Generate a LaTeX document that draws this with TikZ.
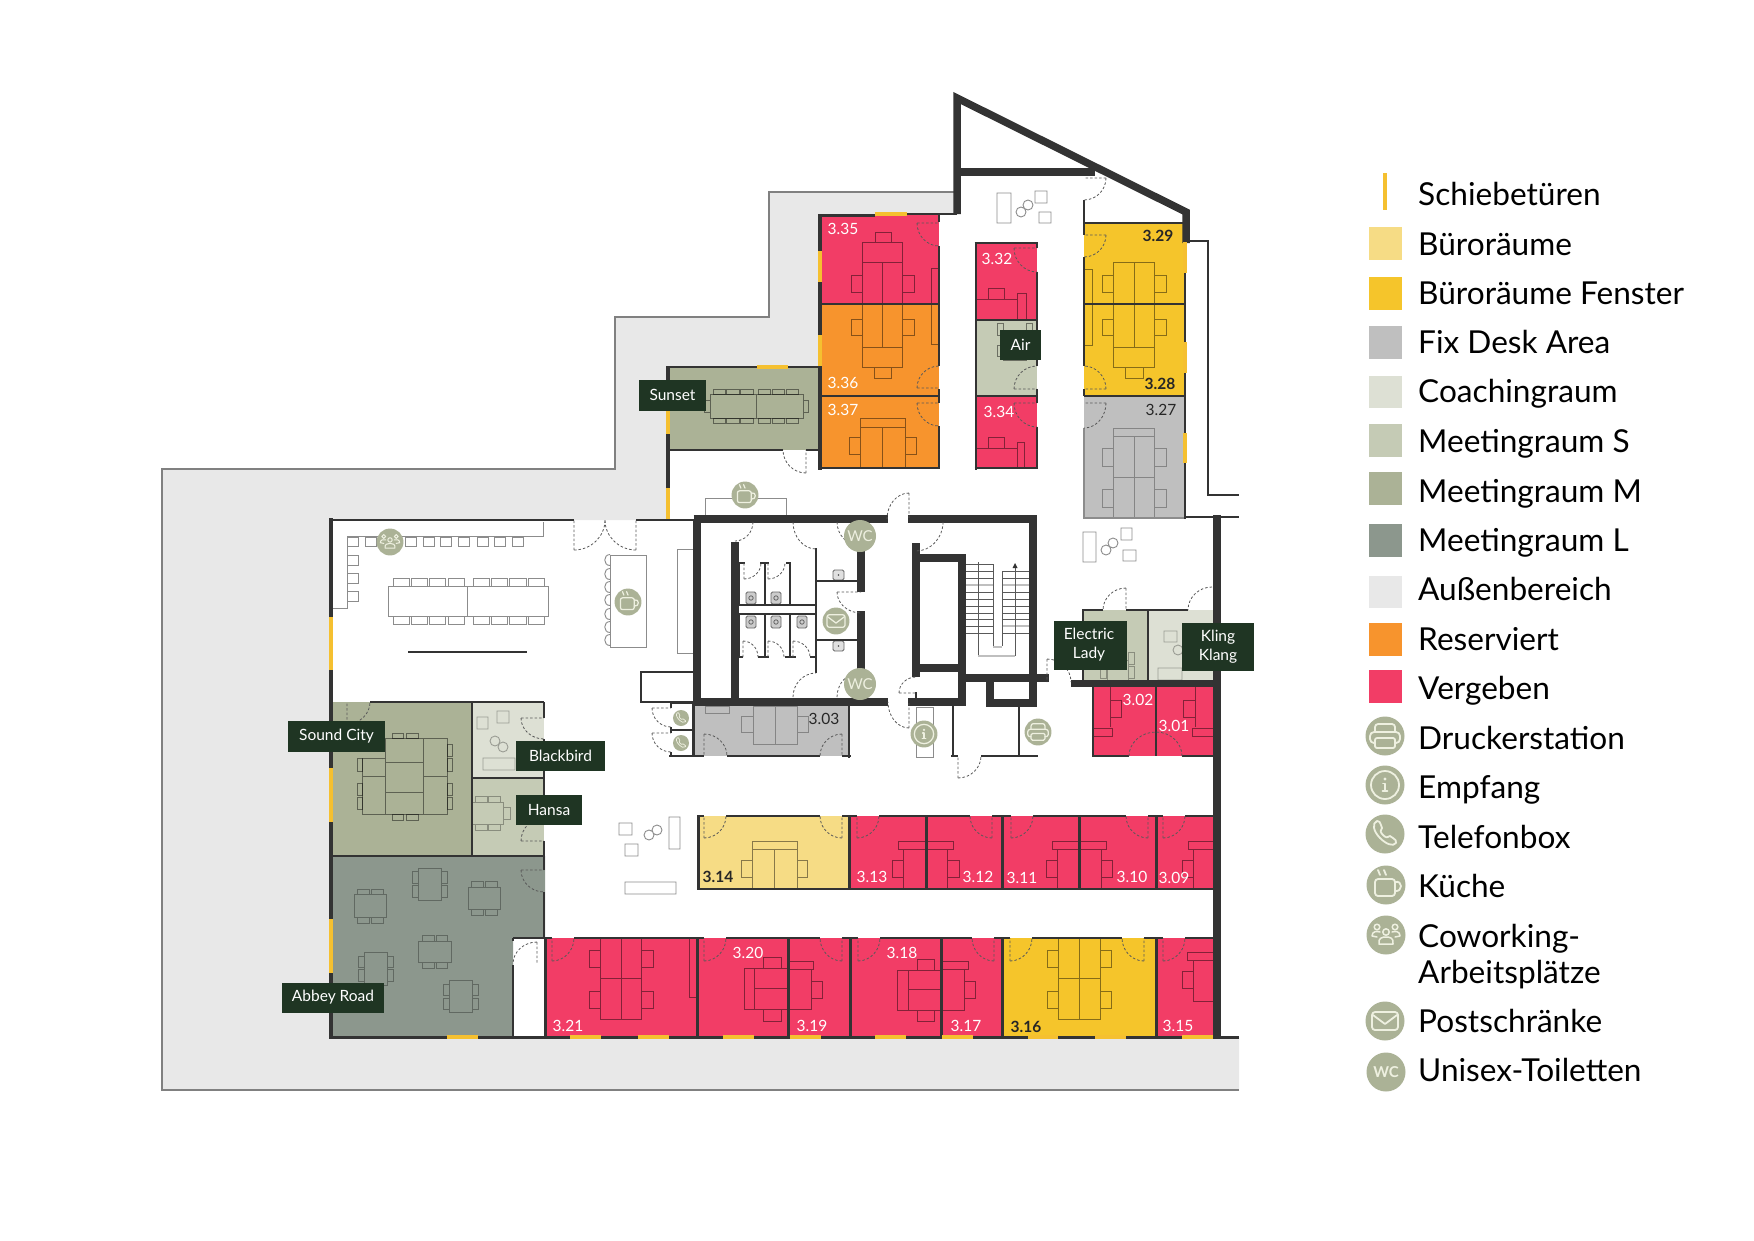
\documentclass[tikz,border=0pt]{standalone}
\usepackage{fontspec}
\setmainfont{Lato}
\definecolor{cred}{HTML}{F23D66}
\definecolor{cyel}{HTML}{F5C52B}
\definecolor{cbur}{HTML}{F6DC85}
\definecolor{cfix}{HTML}{BFBFBF}
\definecolor{ccoa}{HTML}{DDE0D4}
\definecolor{cms}{HTML}{C5CBB5}
\definecolor{cmm}{HTML}{ABB296}
\definecolor{cml}{HTML}{8C978D}
\definecolor{cout}{HTML}{E8E8E8}
\definecolor{cres}{HTML}{F7942D}
\definecolor{cwall}{HTML}{333333}
\definecolor{clab}{HTML}{1F3523}
\definecolor{ccream}{HTML}{EEF0E0}
\definecolor{cslide}{HTML}{F5C030}
\tikzset{
  wall/.style={draw=cwall,line width=2.6pt},
  wallb/.style={draw=cwall,line width=7.5pt},
  wallt/.style={draw=cwall,line width=1.8pt},
  slide/.style={draw=cslide,line width=4pt},
  fur/.style={draw=black,draw opacity=.45,line width=.9pt},
  furl/.style={draw=black,draw opacity=.3,line width=.9pt},
  furw/.style={draw=black!45,line width=.9pt},
  doorl/.style={draw=black!65,line width=.8pt,dash pattern=on 2.5pt off 2pt},
  rn/.style={font=\fontsize{15.5}{18}\selectfont,text=white,inner sep=0pt,yshift=-.8pt},
  rnd/.style={rn,text=black!85},
  rnb/.style={rn,text=black!85,font=\fontsize{15.5}{18}\selectfont\bfseries},
  lab/.style={fill=clab,text=white,inner sep=0pt,align=center,yshift=-.6pt,font=\fontsize{15.5}{19}\selectfont},
  leg/.style={anchor=base west,inner sep=0pt,font=\fontsize{31.6}{36}\selectfont,text=black,align=left},
  ico/.style={draw=ccream,line cap=round,line join=round},
}
\newcommand\doorj[6]{\draw[doorl] ({#1+(#3)},{#2+(#4)}) -- (#1,#2) ({#1+(#3)},{#2+(#4)}) .. controls ({#1+(#3)+.55*(#5)},{#2+(#4)+.55*(#6)}) and ({#1+(#5)+.55*(#3)},{#2+(#6)+.55*(#4)}) .. ({#1+(#5)},{#2+(#6)});}
\newcommand\doora[6]{\draw[doorl] ({#1+(#3)},{#2+(#4)}) .. controls ({#1+(#3)+.55*(#5)},{#2+(#4)+.55*(#6)}) and ({#1+(#5)+.55*(#3)},{#2+(#6)+.55*(#4)}) .. ({#1+(#5)},{#2+(#6)});}
\newcommand\icbase[3]{\fill[cmm] (#1,#2) circle[radius=19.5*#3];}
\newcommand\icprinter[3]{\icbase{#1}{#2}{#3}\begin{scope}[shift={(#1,#2)},scale=#3,ico,line width=#3*1.8pt]
 \draw[rounded corners=3*#3 pt] (-10,-4) -- (-10,-12) -- (10,-12) -- (10,-4);
 \draw[rounded corners=4*#3 pt] (-10,7) -- (-15,7) -- (-15,-4) -- (15,-4) -- (15,7) -- (10,7);
 \draw[rounded corners=2*#3 pt] (-10,2) rectangle (10,12);
 \end{scope}}
\newcommand\icinfo[3]{\icbase{#1}{#2}{#3}\begin{scope}[shift={(#1,#2)},scale=#3,ico,line width=#3*1.8pt]
 \draw (0,0) circle[radius=14];
 \fill[ccream] (0,-6) circle[radius=1.7];
 \draw (-2,-1.5) -- (0,-1.5) -- (0,6) (-2.5,6) -- (2.5,6);
 \end{scope}}
\newcommand\icphone[3]{\icbase{#1}{#2}{#3}\begin{scope}[shift={(#1,#2)},scale=#3,ico,line width=#3*1.8pt]
 \draw (-8,-13) .. controls (-13,-11) and (-12,-3) .. (-5,4) .. controls (1,10) and (8,13) .. (11,9) .. controls (12,7) and (11,6) .. (5,2) .. controls (3,4) and (1,4) .. (-2,1) .. controls (-5,-2) and (-5,-4) .. (-3,-6) .. controls (-5,-12) and (-6,-14) .. (-8,-13) -- cycle;
 \end{scope}}
\newcommand\iccoffee[3]{\icbase{#1}{#2}{#3}\begin{scope}[shift={(#1,#2)},scale=#3,ico,line width=#3*1.8pt]
 \draw[rounded corners=3*#3 pt] (-11,-6) -- (9,-6) -- (9,11) -- (-11,11) -- cycle;
 \draw (9,-3) .. controls (17,-5) and (17,7) .. (9,6);
 \draw (-8,-15) -- (-6,-10) (-2,-15) -- (0,-10);
 \end{scope}}
\newcommand\icpeople[3]{\icbase{#1}{#2}{#3}\begin{scope}[shift={(#1,#2)},scale=#3,ico,line width=#3*1.5pt]
 \draw (0,-3) circle[radius=3.2] (-9,-8) circle[radius=2.8] (9,-8) circle[radius=2.8];
 \draw (-7,9) .. controls (-8,3) and (-4,2) .. (0,2) .. controls (4,2) and (8,3) .. (7,9) -- cycle;
 \draw (-14,1) .. controls (-14,-4) and (-9,-4) .. (-6,-3) (14,1) .. controls (14,-4) and (9,-4) .. (6,-3) (-14,1) -- (-9,2) (14,1) -- (9,2);
 \end{scope}}
\newcommand\icmail[3]{\icbase{#1}{#2}{#3}\begin{scope}[shift={(#1,#2)},scale=#3,ico,line width=#3*1.8pt]
 \draw[rounded corners=3*#3 pt] (-13,-9) rectangle (13,9);
 \draw (-12,-6) -- (0,3) -- (12,-6);
 \end{scope}}
\begin{document}
\begin{tikzpicture}[x=1pt,y=-1pt]
\useasboundingbox (0,0) rectangle (1754,1240);
\fill[white] (0,0) rectangle (1754,1240);
% outdoor
\fill[cout] (162,469)--(615,469)--(615,317)--(769,317)--(769,192)--(957,192)--(957,214)--(820,214)--(820,367)--(668,367)--(668,520)--(331,520)--(331,1037)--(1239,1037)--(1239,1090)--(162,1090)--cycle;
\draw[draw=black!50,line width=1.6pt] (1239,1090)--(162,1090)--(162,469)--(615,469)--(615,317)--(769,317)--(769,192)--(957,192);
% room fills
\fill[cred] (820,214) rectangle (939,304);
\fill[cres] (820,304) rectangle (939,468);
\fill[cred] (976,243) rectangle (1037,320);
\fill[cms] (976,320) rectangle (1037,396);
\fill[cred] (976,396) rectangle (1037,468);
\fill[cyel] (1084,223) rectangle (1185,396);
\fill[cfix] (1084,396) rectangle (1185,517);
\fill[cmm] (668,367) rectangle (820,450);
\fill[cmm] (331,702) rectangle (472,856);
\fill[ccoa] (472,702) rectangle (544,778);
\fill[cms] (472,778) rectangle (544,856);
\fill[cml] (331,856)--(545,856)--(545,938)--(513,938)--(513,1037)--(331,1037)--cycle;
\fill[cfix] (694,706) rectangle (850,756);
\fill[cms] (1083,610) rectangle (1148,681);
\fill[ccoa] (1148,610) rectangle (1217,681);
\fill[cred] (1093,687) rectangle (1213,756);
\fill[cbur] (698,816) rectangle (849,889);
\fill[cred] (849,816) rectangle (1213,889);
\fill[cred] (545,938) rectangle (1002,1037);
\fill[cyel] (1002,938) rectangle (1156,1037);
\fill[cred] (1156,938) rectangle (1213,1037);
% furniture, white floor
\draw[furw] (997,193) rectangle (1011,223) (1021,212) circle[radius=5] (1028,205) circle[radius=5] (1035,191) rectangle (1047,203) (1039,212) rectangle (1051,223);
\draw[furw] (1083,532) rectangle (1096,562) (1106,550) circle[radius=5] (1113,543) circle[radius=5] (1121,528) rectangle (1132,540) (1123,550) rectangle (1136,561);
\draw[furw] (619,823) rectangle (632,835) (625,844) rectangle (638,856) (649,835) circle[radius=5] (657,830) circle[radius=5] (669,817) rectangle (680,849) (625,882) rectangle (676,894);
\draw[furw] (543,522)--(543,536)--(347,536)--(347,608)--(331,608);
\draw[furw] (347,537) rectangle (358,546) (365,537) rectangle (376,546) (385,537) rectangle (396,546) (405,537) rectangle (416,546) (423,537) rectangle (434,546) (440,537) rectangle (451,546) (458,537) rectangle (469,546) (477,537) rectangle (488,546) (494,537) rectangle (505,546) (512,537) rectangle (523,546);
\draw[furw] (347,555) rectangle (358,565) (347,573) rectangle (358,583) (347,591) rectangle (358,601);
\draw[furw] (388,586) rectangle (467,616) (467,586) rectangle (548,616);
\foreach \xa/\xb in {393/409,411/427,429/445,448/464,473/489,491/507,509/526,528/544}{\draw[furw] (\xa,578) rectangle (\xb,586) (\xa,616) rectangle (\xb,624);}
\draw[wall] (408,652)--(527,652);
\draw[furw] (610,555) rectangle (646,647);
\foreach \yy in {560,574,587,600,614,627,640}{\draw[furw] (610,\yy-5.5) .. controls (603,\yy-5.5) and (603,\yy+5.5) .. (610,\yy+5.5);}
\draw[furw] (677,653)--(677,549)--(694,549) (677,653)--(694,653);
\draw[furw] (705,519)--(705,498)--(786,498)--(786,519);
\draw[furw] (916,707) rectangle (933,757);
% furniture rooms
\draw[fur] (875,232) rectangle (891,242) (862,242) rectangle (902,262) (862,262) rectangle (902,304) (882,262)--(882,347) (851,275) rectangle (862,292) (902,275) rectangle (914,292) (931,268) rectangle (939,344);
\draw[fur] (862,304) rectangle (902,347) (862,347) rectangle (902,367) (874,367) rectangle (891,378) (851,319) rectangle (862,335) (902,319) rectangle (914,335);
\draw[fur] (860,418) rectangle (905,427) (860,427) rectangle (905,468) (882,427)--(882,468) (849,437) rectangle (860,454) (905,437) rectangle (916,454);
\draw[fur] (976,299) rectangle (1017,320) (1017,293) rectangle (1026,320) (988,288) rectangle (1004,299);
\draw[fur] (997,323) rectangle (1003,335) (1026,323) rectangle (1032,335) (997,345) rectangle (1003,356) (1003,356) rectangle (1026,360);
\draw[fur] (976,448) rectangle (1017,468) (1017,442) rectangle (1024,468) (988,437) rectangle (1004,448);
\draw[fur] (1113,262) rectangle (1154,304) (1134,262)--(1134,347) (1102,275) rectangle (1113,292) (1154,275) rectangle (1166,292) (1084,269) rectangle (1092,345);
\draw[fur] (1113,304) rectangle (1154,347) (1113,347) rectangle (1154,367) (1125,367) rectangle (1143,378) (1102,319) rectangle (1113,335) (1154,319) rectangle (1166,335);
\draw[furl] (1113,428) rectangle (1154,436) (1113,436) rectangle (1154,517) (1134,436)--(1134,517) (1113,477)--(1154,477) (1102,448) rectangle (1113,466) (1154,448) rectangle (1166,466) (1102,489) rectangle (1113,507) (1154,489) rectangle (1166,507);
\draw[fur] (710,394) rectangle (803,418) (756,394)--(756,418) (803,400) rectangle (808,412) (704,400) rectangle (710,412);
\foreach \xa/\xb in {713/725,726/739,740/753,758/770,772/784,786/798}{\draw[fur] (\xa,389) rectangle (\xb,394) (\xa,418) rectangle (\xb,423);}
\draw[fur] (385,738) rectangle (423,814) (385,762)--(423,762) (385,792)--(423,792) (362,758) rectangle (385,814) (362,776)--(385,776) (423,738) rectangle (447,814) (423,776)--(447,776);
\draw[fur] (357,758) rectangle (362,771) (357,783) rectangle (362,795) (357,797) rectangle (362,809) (447,744) rectangle (452,756) (447,758) rectangle (452,771) (447,783) rectangle (452,795) (447,797) rectangle (452,809) (392,733) rectangle (403,738) (406,733) rectangle (418,738) (392,814) rectangle (403,820) (406,814) rectangle (418,820);
\draw[furl] (477,717) rectangle (488,729) (497,711) rectangle (509,723) (495,741) circle[radius=5] (503,747) circle[radius=5] (483,758) rectangle (515,770);
\draw[furl] (472,802) rectangle (503,824) (475,796) rectangle (487,802) (488,796) rectangle (500,802) (475,824) rectangle (487,830) (488,824) rectangle (500,830) (503,807) rectangle (510,819);
\draw[furl] (354,894) rectangle (386,917) (357,889) rectangle (369,894) (371,889) rectangle (383,894) (357,917) rectangle (369,923) (371,917) rectangle (383,923);
\draw[furl] (418,868) rectangle (441,900) (412,871) rectangle (418,883) (412,885) rectangle (418,897) (441,871) rectangle (447,883) (441,885) rectangle (447,897);
\draw[furl] (468,887) rectangle (500,909) (471,881) rectangle (483,887) (485,881) rectangle (497,887) (471,909) rectangle (483,915) (485,909) rectangle (497,915);
\draw[furl] (418,941) rectangle (451,962) (422,935) rectangle (434,941) (436,935) rectangle (447,941) (422,962) rectangle (434,968) (436,962) rectangle (447,968);
\draw[furl] (364,952) rectangle (387,985) (358,956) rectangle (364,967) (358,969) rectangle (364,981) (387,956) rectangle (393,967) (387,969) rectangle (393,981);
\draw[furl] (449,980) rectangle (472,1012) (443,984) rectangle (449,995) (443,998) rectangle (449,1009) (472,984) rectangle (478,995) (472,998) rectangle (478,1009);
\draw[furl] (753,706) rectangle (797,744) (775,706)--(775,744) (741,716) rectangle (753,732) (797,716) rectangle (808,732) (705,706) rectangle (729,713);
\draw[furl] (1128,652) rectangle (1134,664) (1128,666) rectangle (1134,678) (1100,668) rectangle (1106,678) (1107,660) rectangle (1128,680);
\draw[furl] (1164,631) rectangle (1177,642) (1178,650) circle[radius=5] (1158,668) rectangle (1182,680);
\draw[fur] (1110,687)--(1110,727) (1110,700) rectangle (1121,717) (1093,728) rectangle (1112,736) (1195,687)--(1195,727) (1183,700) rectangle (1195,717) (1192,728) rectangle (1213,736);
% upper row
\draw[fur] (752,841) rectangle (797,849) (752,849) rectangle (797,889) (774,849)--(774,889) (741,860) rectangle (752,877) (797,860) rectangle (807,877);
\draw[fur] (898,841) rectangle (926,849) (903,849) rectangle (926,889) (892,860) rectangle (903,877);
\draw[fur] (926,841) rectangle (953,849) (926,849) rectangle (947,889) (947,860) rectangle (959,877);
\draw[fur] (1052,841) rectangle (1079,849) (1057,849) rectangle (1079,889) (1046,860) rectangle (1057,877);
\draw[fur] (1079,841) rectangle (1106,849) (1079,849) rectangle (1101,889) (1101,860) rectangle (1112,877);
\draw[fur] (1188,841) rectangle (1213,849) (1193,849) rectangle (1213,889) (1182,860) rectangle (1193,877);
% lower row
\draw[fur] (600,938) rectangle (641,1019) (621,938)--(621,1019) (600,978)--(641,978) (589,950) rectangle (600,967) (641,950) rectangle (653,967) (589,991) rectangle (600,1008) (641,991) rectangle (653,1008) (689,938) rectangle (697,997);
\draw[fur] (744,968) rectangle (754,1009) (754,968) rectangle (788,1009) (754,988)--(788,988) (763,957) rectangle (781,968) (763,1009) rectangle (781,1021);
\draw[fur] (788,961) rectangle (813,969) (788,969) rectangle (811,1009) (811,981) rectangle (822,998);
\draw[fur] (897,970) rectangle (908,1010) (908,970) rectangle (941,1010) (908,989)--(941,989) (917,959) rectangle (934,970) (917,1010) rectangle (934,1021);
\draw[fur] (941,961) rectangle (968,969) (941,969) rectangle (964,1010) (964,981) rectangle (975,998);
\draw[fur] (1058,938) rectangle (1100,1019) (1079,938)--(1079,1019) (1058,978)--(1100,978) (1047,950) rectangle (1058,967) (1100,950) rectangle (1111,967) (1047,991) rectangle (1058,1008) (1100,991) rectangle (1111,1008);
\draw[fur] (1187,952) rectangle (1213,960) (1193,960) rectangle (1213,1001) (1182,971) rectangle (1193,988);
% stairs
\foreach \yy in {564,571,578,592,599,606,613,619,633}{\draw[black!65,line width=.9pt] (966,\yy)--(993,\yy);}
\foreach \yy in {571,578,592,599,606,613,619,633}{\draw[black!65,line width=.9pt] (1002,\yy)--(1029,\yy);}
\draw[black!25,line width=1.8pt] (966,585)--(993,585) (1002,585)--(1029,585) (1002,626)--(1029,626);
\draw[black!65,line width=.9pt] (966,626)--(993,626);
\draw[black!65,line width=.9pt] (978,562)--(978,656) (993,564)--(993,646) (1002,571)--(1002,646) (1015,568)--(1015,656);
\draw[black!25,line width=1.5pt] (993,647)--(1002,647) (978,656)--(1015,656);
\fill[black!80] (1015,563)--(1012.5,568)--(1017.5,568)--cycle;
% toilets
\foreach \xx/\yy in {751/598,776/598,751/622,776/622,802/622}{\draw[fill=black!20,draw=black!60,rounded corners=1.5pt,line width=.9pt] (\xx-5,\yy-6) rectangle (\xx+5,\yy+6); \draw[black!60,line width=.8pt] (\xx,\yy) circle[radius=2.2];}
\foreach \yy in {575,646}{\draw[fill=black!12,draw=black!60,rounded corners=1.5pt,line width=.9pt] (833,\yy-5) rectangle (844,\yy+5); \fill[black!70] (838.5,\yy) circle[radius=.9];}
% walls
\draw[wall,line width=3.5pt] (820,214)--(820,470) (668,366)--(668,521) (331,518)--(331,1039);
\draw[wall] (820,215.5)--(875,215.5) (907,214)--(957,214) (820,304)--(939,304) (820,396)--(939,396) (818.5,468)--(940,468);
\draw[wallt] (939,214)--(939,222) (939,246)--(939,366) (939,389)--(939,403) (939,426)--(939,468);
\draw[wall] (974.5,243)--(1038,243) (976,243)--(976,470) (976,320)--(1037,320) (976,396)--(1037,396) (974.5,468)--(1038,468);
\draw[wallt] (1037,243)--(1037,248) (1037,272)--(1037,366) (1037,389)--(1037,403) (1037,427)--(1037,468);
\draw[wallt] (1084,200)--(1084,223);
\draw[wall] (1084,223)--(1185,223) (1084,304)--(1185,304) (1084,396)--(1185,396);
\draw[wallt] (1084,223)--(1084,235) (1084,257)--(1084,366) (1084,389)--(1084,396);
\draw[draw=black!45,line width=1.6pt] (1084,428)--(1084,518)--(1185,518);
\draw[wall] (1185,242)--(1185,519);
\draw[wall] (1186,241)--(1208,241)--(1208,495)--(1239,495) (1184,517)--(1239,517);
\draw[wallb,miter limit=10] (957,214)--(957,98)--(1186,212)--(1186,243);
\draw[wallb] (957,172)--(1095,172);
\draw[wallb,line width=8pt] (1217,515)--(1217,1037);
\draw[wall] (668,367)--(757,367) (788,367)--(820,367);
\draw[wall,line width=1.8pt] (668,450)--(783,450) (806,450)--(820,450);
\draw[wall,line width=2.6pt] (331,520)--(574,520) (636,520)--(697,520);
\draw[wall] (370,702)--(544,702) (472,702)--(472,856) (472,778)--(544,778) (331,856)--(545,856);
\draw[wall,line width=2pt] (544,702)--(544,718) (544,739)--(544,778) (544,778)--(544,800) (544,841)--(544,856) (544,856)--(544,870) (544,892)--(544,938);
\draw[wall] (513,938)--(545,938) (513,938)--(513,941) (513,965)--(513,1037);
% lower rows
\draw[wall,line width=3pt] (331,1037)--(1239,1037);
\draw[wall,line width=3pt] (545,938)--(545,1037) (697,938)--(697,1037) (788,938)--(788,1037) (850,938)--(850,1037) (941,938)--(941,1037) (1002,938)--(1002,1037) (1156,938)--(1156,1037);
\draw[wallt] (545,938)--(552,938) (574,938)--(704,938) (726,938)--(820,938) (842,938)--(858,938) (880,938)--(972,938) (994,938)--(1010,938) (1032,938)--(1122,938) (1144,938)--(1163,938) (1185,938)--(1213,938);
\draw[wallt] (698,816)--(704,816) (726,816)--(820,816) (842,816)--(857,816) (879,816)--(970,816) (992,816)--(1011,816) (1033,816)--(1126,816) (1148,816)--(1163,816) (1185,816)--(1213,816) (698,889)--(1213,889);
\draw[wall,line width=3pt] (698,815)--(698,890) (849,815)--(849,890) (926,815)--(926,890) (1002,815)--(1002,890) (1079,815)--(1079,890) (1156,815)--(1156,890);
% core
\draw[wallb] (693.5,519)--(888,519) (908,519)--(1037,519) (697,519)--(697,706) (1033,515)--(1033,707) (693.5,702)--(888,702) (908,702)--(966,702);
\draw[wallb] (735,542)--(735,702) (861,530)--(861,592) (861,611)--(861,680) (916,543)--(916,677) (912,558)--(966,558) (962,555)--(962,706) (916,668)--(962,668) (962,678)--(1049,678) (990,678)--(990,707) (986,703)--(1037,703);
\draw[wallb] (1071,683.5)--(1221,683.5);
\draw[wall] (816,548)--(816,673) (816,581)--(861,581) (816,640)--(861,640);
\draw[wall,line width=2.5pt] (738,605)--(816,605) (738,614)--(816,614);
\draw[wall,line width=2pt] (765,563)--(765,605) (790,563)--(790,605) (765,614)--(765,657) (790,614)--(790,657) (739,563)--(739,605) (739,614)--(739,657);
\draw[wall,line width=2pt] (738,563)--(745,563) (760,563)--(769,563) (786,563)--(791,563) (738,657)--(743,657) (758,657)--(769,657) (785,657)--(796,657) (810,657)--(816,657);
\draw[wall] (916,692)--(916,702);
\draw[wall] (953,706)--(953,756) (951,756)--(958,756) (981,756)--(1038,756) (1019,706)--(1019,756);
\draw[wall] (849,704)--(849,757.5) (669,756)--(704,756) (727,756)--(820,756) (842,756)--(851,756);
\draw[wall] (693.5,704)--(693.5,756) (671,703)--(694,703) (671,730)--(694,730) (671,703)--(671,708) (671,727)--(671,733) (671,752)--(671,756);
\draw[wall,line width=2.6pt] (694,672)--(641,672)--(641,702)--(694,702);
% electric / kling / 3.02
\draw[wall] (1083,610)--(1083,681) (1148,610)--(1148,680);
\draw[wall,line width=2pt] (1082,610)--(1103,610) (1126,610)--(1188,610);
\draw[wall,line width=2.2pt] (1093,687)--(1093,757) (1092,756)--(1129,756) (1182,756)--(1213,756);
\draw[wall] (1156,687)--(1156,756);
% sliding doors
\draw[slide] (820,251)--(820,282) (820,335)--(820,366) (875,214)--(907,214);
\draw[slide] (757,367)--(788,367) (668,410)--(668,434) (668,488)--(668,519);
\draw[slide] (1185,242)--(1185,273) (1185,342)--(1185,373) (1185,433)--(1185,463);
\draw[slide] (331,617)--(331,670) (331,768)--(331,822) (331,919)--(331,973);
\draw[slide] (447,1037)--(478,1037) (570,1037)--(601,1037) (638,1037)--(669,1037) (723,1037)--(754,1037) (790,1037)--(821,1037) (875,1037)--(906,1037) (942,1037)--(973,1037) (1028,1037)--(1058,1037) (1095,1037)--(1126,1037) (1182,1037)--(1213,1037);
% doors
\doorj{939}{223}{-22}{0}{0}{23}
\doorj{939}{388}{-22}{0}{0}{-22}
\doorj{939}{403}{-22}{0}{0}{23}
\doorj{1037}{248}{-23}{0}{0}{24}
\doorj{1037}{389}{-23}{0}{0}{-23}
\doorj{1037}{403}{-23}{0}{0}{24}
\doorj{1084}{178}{22}{0}{0}{22}
\doorj{1084}{235}{22}{0}{0}{22}
\doorj{1084}{389}{22}{0}{0}{-23}
\doorj{1084}{403}{22}{0}{0}{25}
\doorj{806}{450}{0}{23}{-23}{0}
\doorj{574}{520}{0}{30}{31}{0}
\doorj{636}{520}{0}{30}{-31}{0}
\doorj{347}{702}{0}{22}{23}{0}
\doorj{544}{718}{-23}{0}{0}{21}
\doorj{544}{841}{-23}{0}{0}{-23}
\doorj{544}{870}{-23}{0}{0}{22}
\doorj{537}{964}{0}{-22}{-24}{0}
\doorj{552}{938}{0}{23}{22}{0}
\doorj{704}{938}{0}{23}{22}{0}
\doorj{842}{938}{0}{23}{-22}{0}
\doorj{858}{938}{0}{23}{22}{0}
\doorj{994}{938}{0}{23}{-22}{0}
\doorj{1010}{938}{0}{23}{22}{0}
\doorj{1144}{938}{0}{23}{-22}{0}
\doorj{1163}{938}{0}{23}{22}{0}
\doorj{704}{816}{0}{22}{22}{0}
\doorj{842}{816}{0}{22}{-22}{0}
\doorj{857}{816}{0}{22}{22}{0}
\doorj{992}{816}{0}{22}{-22}{0}
\doorj{1011}{816}{0}{22}{22}{0}
\doorj{1148}{816}{0}{22}{-22}{0}
\doorj{1163}{816}{0}{22}{22}{0}
\doorj{909}{519}{0}{-26}{-22}{0}
\doorj{909}{702}{0}{26}{-21}{0}
\doora{735}{522}{18}{0}{0}{19}
\doora{816}{522}{-23}{0}{0}{27}
\doora{861}{522}{-24}{0}{0}{24}
\doora{816}{697}{-23}{0}{0}{-24}
\doora{861}{697}{-24}{0}{0}{-25}
\doorj{861}{592}{-24}{0}{0}{21}
\doora{916}{522}{27}{0}{0}{29}
\doorj{916}{693}{-17}{0}{0}{-16}
\doorj{958}{756}{0}{22}{23}{0}
\doorj{744}{563}{0}{16}{17}{0}
\doorj{768}{563}{0}{16}{17}{0}
\doorj{743}{657}{0}{-16}{15}{0}
\doorj{768}{657}{0}{-16}{16}{0}
\doorj{793}{657}{0}{-16}{17}{0}
\doorj{704}{756}{0}{-22}{23}{0}
\doorj{842}{756}{0}{-22}{-22}{0}
\doorj{671}{708}{-19}{0}{0}{19}
\doorj{671}{733}{-19}{0}{0}{19}
\doorj{1126}{610}{0}{-22}{-23}{0}
\doora{1212}{610}{0}{-23}{-24}{0}
\doorj{1047}{682}{0}{-23}{24}{0}
\doora{1156}{756}{-27}{0}{0}{-24}
\doora{1156}{756}{26}{0}{0}{-24}
% icons on plan
\icpeople{390}{542}{.69}
\iccoffee{628}{602}{.69}
\iccoffee{745}{495}{.69}
\icmail{836}{621}{.69}
\icinfo{924}{734}{.69}
\icprinter{1038}{732}{.69}
\icphone{681}{718}{.41}
\icphone{681}{743}{.41}
\fill[cmm] (860,536) circle[radius=16] (860,684) circle[radius=16];
\node[text=ccream,inner sep=0pt,font=\fontsize{15}{18}\selectfont] (wc1) at (860,536) {WC};
\node[text=ccream,inner sep=0pt,font=\fontsize{15}{18}\selectfont] (wc2) at (860,684) {WC};
% room numbers
\node[rn] (r335) at (843,228) {3.35};
\node[rn] (r336) at (843,382) {3.36};
\node[rn] (r337) at (843,409) {3.37};
\node[rn] (r332) at (997,258) {3.32};
\node[rn] (r334) at (999,411) {3.34};
\node[rnb] (r329) at (1158,235) {3.29};
\node[rnb] (r328) at (1160,383) {3.28};
\node[rnd] (r327) at (1161,409) {3.27};
\node[rnd] (r303) at (824,718) {3.03};
\node[rn] (r302) at (1138,699) {3.02};
\node[rn] (r301) at (1174,725) {3.01};
\node[rnb] (r314) at (718,876) {3.14};
\node[rn] (r313) at (872,876) {3.13};
\node[rn] (r312) at (978,876) {3.12};
\node[rn] (r311) at (1022,877) {3.11};
\node[rn] (r310) at (1132,876) {3.10};
\node[rn] (r309) at (1174,877) {3.09};
\node[rn] (r321) at (568,1025) {3.21};
\node[rn] (r320) at (748,952) {3.20};
\node[rn] (r319) at (812,1025) {3.19};
\node[rn] (r318) at (902,952) {3.18};
\node[rn] (r317) at (966,1025) {3.17};
\node[rnb] (r316) at (1026,1026) {3.16};
\node[rn] (r315) at (1178,1025) {3.15};
% labels
\node[lab,minimum width=67pt,minimum height=31pt] (lsun) at (672.5,394.5) {Sunset};
\node[lab,minimum width=41pt,minimum height=30pt] (lair) at (1020.5,344) {Air};
\node[lab,minimum width=73pt,minimum height=49pt] (lele) at (1090.5,644.5) {Electric\hspace*{3pt}\\Lady\hspace*{3pt}};
\node[lab,minimum width=72pt,minimum height=48pt] (lkli) at (1218,646) {Kling\\Klang};
\node[lab,minimum width=97pt,minimum height=31pt] (lsou) at (336.5,735.5) {Sound City};
\node[lab,minimum width=89pt,minimum height=30pt] (lbla) at (560.5,755) {Blackbird};
\node[lab,minimum width=66pt,minimum height=30pt] (lhan) at (549,809) {Hansa};
\node[lab,minimum width=102pt,minimum height=30pt] (labb) at (333,997) {Abbey Road};
% legend
\draw[cslide,line width=4pt] (1385,173)--(1385,210);
\node[leg] (t1) at (1418,205) {Schiebetüren};
\fill[cbur] (1369,227) rectangle (1402,260);
\node[leg] (t2) at (1418,255) {Büroräume};
\fill[cyel] (1369,277) rectangle (1402,310);
\node[leg] (t3) at (1418,304) {Büroräume Fenster};
\fill[cfix] (1369,326) rectangle (1402,359);
\node[leg] (t4) at (1418,353) {Fix Desk Area};
\fill[ccoa] (1369,376) rectangle (1402,408);
\node[leg] (t5) at (1418,402) {Coachingraum};
\fill[cms] (1369,424) rectangle (1402,457);
\node[leg] (t6) at (1418,452) {Meetingraum S};
\fill[cmm] (1369,472) rectangle (1402,505);
\node[leg] (t7) at (1418,502) {Meetingraum M};
\fill[cml] (1369,524) rectangle (1402,557);
\node[leg] (t8) at (1418,551) {Meetingraum L};
\fill[cout] (1369,576) rectangle (1402,608);
\node[leg] (t9) at (1418,600) {Außenbereich};
\fill[cres] (1369,623) rectangle (1402,656);
\node[leg] (t10) at (1418,650) {Reserviert};
\fill[cred] (1369,670) rectangle (1402,703);
\node[leg] (t11) at (1418,699) {Vergeben};
\icprinter{1385}{736}{1}
\node[leg] (t12) at (1418,749) {Druckerstation};
\icinfo{1385}{785}{1}
\node[leg] (t13) at (1418,798) {Empfang};
\icphone{1385}{834}{1}
\node[leg] (t14) at (1418,848) {Telefonbox};
\iccoffee{1386}{885}{1}
\node[leg] (t15) at (1418,897) {Küche};
\icpeople{1386}{935}{1}
\node[leg] (t16) at (1418,983) {Coworking-\\Arbeitsplätze};
\icmail{1385}{1021}{1}
\node[leg] (t17) at (1418,1032) {Postschränke};
\fill[cmm] (1386,1072) circle[radius=19.5];
\node[text=ccream,inner sep=0pt,font=\fontsize{15}{18}\selectfont\bfseries] (wc3) at (1386,1072) {WC};
\node[leg] (t18) at (1418,1081) {Unisex-Toiletten};
\end{tikzpicture}
\end{document}
